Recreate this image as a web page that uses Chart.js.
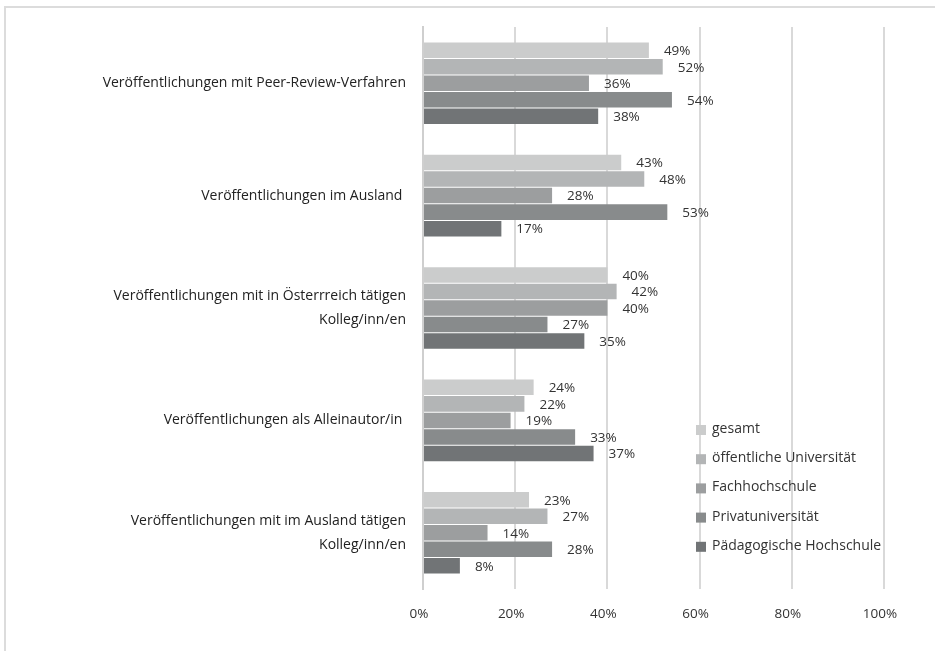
<!DOCTYPE html>
<html>
<head>
<meta charset="utf-8">
<script src="https://cdn.jsdelivr.net/npm/chart.js@4"></script>
<style>
  body { margin: 0; background: #fff; }
  #wrap { position: relative; width: 935px; height: 651px; overflow: hidden; }
  #frame { position: absolute; left: 4px; top: 6px; width: 950px; height: 670px; border: 2px solid #dcdcdc; box-sizing: border-box; }
  #chart { position: absolute; left: 0; top: 0; }
</style>
</head>
<body>
<div id="wrap">
  <div id="frame"></div>
  <canvas id="chart" width="935" height="651"></canvas>
</div>
<script>
const categories = [
  'Veröffentlichungen mit Peer-Review-Verfahren',
  'Veröffentlichungen im Ausland ',
  ['Veröffentlichungen mit in Österrreich tätigen', 'Kolleg/inn/en'],
  'Veröffentlichungen als Alleinautor/in ',
  ['Veröffentlichungen mit im Ausland tätigen', 'Kolleg/inn/en']
];
const seriesNames = ['gesamt', 'öffentliche Universität', 'Fachhochschule', 'Privatuniversität', 'Pädagogische Hochschule'];
const gesamt = [49, 43, 40, 24, 23];
const oeffentlicheUni = [52, 48, 42, 22, 27];
const fachhochschule = [36, 28, 40, 19, 14];
const privatuni = [54, 53, 27, 33, 28];
const paedHochschule = [38, 17, 35, 37, 8];
const xTicks = [0, 20, 40, 60, 80, 100];
const greys = ['#cbcccc', '#b3b5b6', '#9c9e9f', '#888b8c', '#717476'];

const FONT = '"Open Sans", Lato, sans-serif';

// percentage text right after each bar end
const valueLabels = {
  id: 'valueLabels',
  afterDatasetsDraw(chart) {
    const ctx = chart.ctx;
    ctx.save();
    ctx.font = '13.5px ' + FONT;
    ctx.fillStyle = '#333333';
    ctx.textAlign = 'left';
    ctx.textBaseline = 'middle';
    chart.data.datasets.forEach((ds, i) => {
      chart.getDatasetMeta(i).data.forEach((bar, j) => {
        ctx.fillText(ds.data[j] + '%', bar.x + 15, bar.y + 1);
      });
    });
    ctx.restore();
  }
};

// legend sits inside the plot, lower right
const innerLegend = {
  id: 'innerLegend',
  afterDraw(chart) {
    const ctx = chart.ctx;
    const area = chart.chartArea;
    const x = area.left + 273;
    let y = 429;
    ctx.save();
    ctx.font = '14px ' + FONT;
    ctx.textBaseline = 'middle';
    ctx.textAlign = 'left';
    chart.data.datasets.forEach(ds => {
      ctx.fillStyle = ds.backgroundColor;
      ctx.fillRect(x, y - 4, 10, 10);
      ctx.fillStyle = '#333333';
      ctx.fillText(ds.label, x + 16, y);
      y += 29.2;
    });
    ctx.restore();
  }
};

const series = [gesamt, oeffentlicheUni, fachhochschule, privatuni, paedHochschule];

new Chart(document.getElementById('chart'), {
  type: 'bar',
  data: {
    labels: categories,
    datasets: series.map((vals, i) => ({
      label: seriesNames[i],
      data: vals,
      backgroundColor: greys[i],
      borderWidth: 0,
      categoryPercentage: 0.735,
      barPercentage: 0.94
    }))
  },
  options: {
    indexAxis: 'y',
    responsive: false,
    animation: false,
    layout: { padding: { left: 0, right: 51, top: 27, bottom: 0 } },
    plugins: {
      legend: { display: false },
      tooltip: { enabled: false }
    },
    scales: {
      x: {
        min: 0,
        max: 100,
        afterBuildTicks(scale) {
          scale.ticks = xTicks.map(v => ({ value: v }));
        },
        afterFit(scale) {
          scale.height = 62;
          scale.paddingLeft = 0;
          scale.paddingRight = 0;
        },
        grid: { color: '#d9d9d9', lineWidth: 2, drawTicks: false },
        border: { display: false },
        ticks: {
          padding: 17,
          labelOffset: -4,
          color: '#333333',
          font: { family: FONT, size: 13.5 },
          callback: v => v + '%'
        }
      },
      y: {
        afterFit(scale) {
          scale.width = 423;
          scale.paddingTop = 0;
          scale.paddingBottom = 0;
        },
        grid: { display: false, drawTicks: false },
        border: { display: true, color: '#cfcfcf', width: 2 },
        ticks: {
          padding: 17,
          color: '#222222',
          font: { family: FONT, size: 14, lineHeight: 1.7 }
        }
      }
    }
  },
  plugins: [valueLabels, innerLegend]
});
</script>
</body>
</html>
